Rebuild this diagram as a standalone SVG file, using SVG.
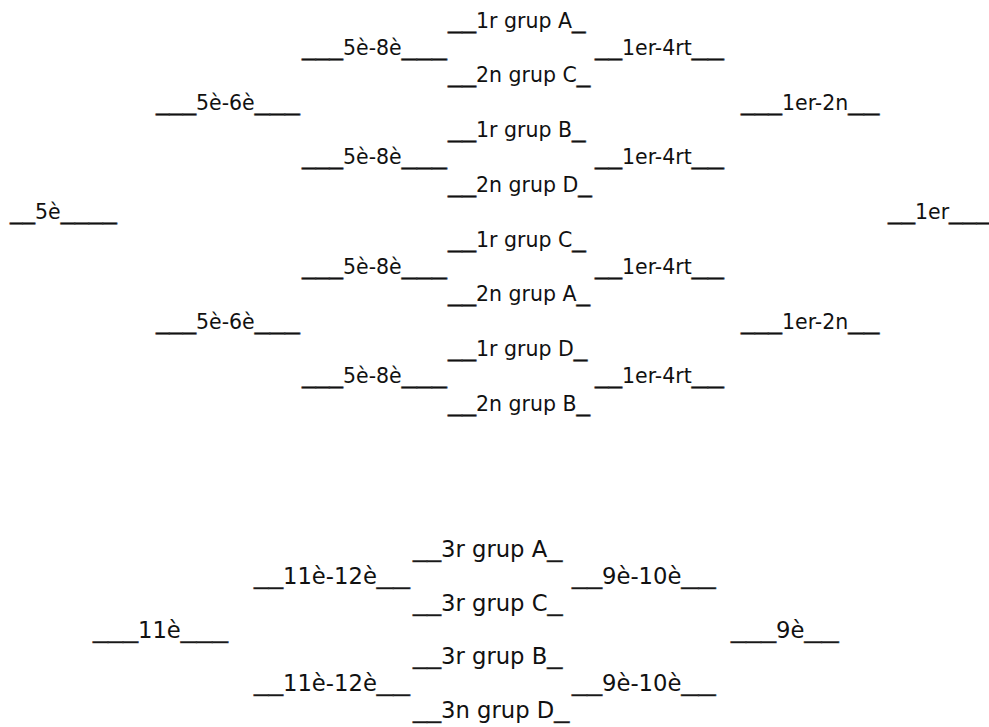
<svg xmlns="http://www.w3.org/2000/svg" width="989" height="727" viewBox="0 0 989 727">
<style>
text{font-family:"DejaVu Sans",Verdana,sans-serif;font-size:20.5px;fill:#111}
.b text{font-size:22.7px}
.u{stroke:#333;stroke-width:0.5px}
</style>
<rect width="989" height="727" fill="#fff"/>
<g id="connectors"/>
<g id="top">
<g id="g1A"><text x="448" y="27.6"><tspan class="u" textLength="28" lengthAdjust="spacingAndGlyphs">__</tspan>1r grup A<tspan class="u" textLength="13.5" lengthAdjust="spacingAndGlyphs">_</tspan></text></g>
<g id="qf1"><text x="302" y="55"><tspan class="u" textLength="41" lengthAdjust="spacingAndGlyphs">___</tspan>5è-8è<tspan class="u" textLength="45" lengthAdjust="spacingAndGlyphs">___</tspan></text></g>
<g id="qr1"><text x="595" y="55"><tspan class="u" textLength="27" lengthAdjust="spacingAndGlyphs">__</tspan>1er-4rt<tspan class="u" textLength="32" lengthAdjust="spacingAndGlyphs">__</tspan></text></g>
<g id="g2C"><text x="448" y="82.3"><tspan class="u" textLength="28" lengthAdjust="spacingAndGlyphs">__</tspan>2n grup C<tspan class="u" textLength="13.5" lengthAdjust="spacingAndGlyphs">_</tspan></text></g>
<g id="sf1"><text x="156" y="109.7"><tspan class="u" textLength="40" lengthAdjust="spacingAndGlyphs">___</tspan>5è-6è<tspan class="u" textLength="45" lengthAdjust="spacingAndGlyphs">___</tspan></text></g>
<g id="sr1"><text x="741" y="109.7"><tspan class="u" textLength="41" lengthAdjust="spacingAndGlyphs">___</tspan>1er-2n<tspan class="u" textLength="31" lengthAdjust="spacingAndGlyphs">__</tspan></text></g>
<g id="g1B"><text x="448" y="137"><tspan class="u" textLength="28" lengthAdjust="spacingAndGlyphs">__</tspan>1r grup B<tspan class="u" textLength="13.5" lengthAdjust="spacingAndGlyphs">_</tspan></text></g>
<g id="qf2"><text x="302" y="164.4"><tspan class="u" textLength="41" lengthAdjust="spacingAndGlyphs">___</tspan>5è-8è<tspan class="u" textLength="45" lengthAdjust="spacingAndGlyphs">___</tspan></text></g>
<g id="qr2"><text x="595" y="164.4"><tspan class="u" textLength="27" lengthAdjust="spacingAndGlyphs">__</tspan>1er-4rt<tspan class="u" textLength="32" lengthAdjust="spacingAndGlyphs">__</tspan></text></g>
<g id="g2D"><text x="448" y="191.8"><tspan class="u" textLength="28" lengthAdjust="spacingAndGlyphs">__</tspan>2n grup D<tspan class="u" textLength="13.5" lengthAdjust="spacingAndGlyphs">_</tspan></text></g>
<g id="p5"><text x="10" y="219.1"><tspan class="u" textLength="25" lengthAdjust="spacingAndGlyphs">__</tspan>5è<tspan class="u" textLength="56" lengthAdjust="spacingAndGlyphs">____</tspan></text></g>
<g id="p1"><text x="888" y="219.1"><tspan class="u" textLength="27" lengthAdjust="spacingAndGlyphs">__</tspan>1er<tspan class="u" textLength="41" lengthAdjust="spacingAndGlyphs">___</tspan></text></g>
<g id="g1C"><text x="448" y="246.5"><tspan class="u" textLength="28" lengthAdjust="spacingAndGlyphs">__</tspan>1r grup C<tspan class="u" textLength="13.5" lengthAdjust="spacingAndGlyphs">_</tspan></text></g>
<g id="qf3"><text x="302" y="273.8"><tspan class="u" textLength="41" lengthAdjust="spacingAndGlyphs">___</tspan>5è-8è<tspan class="u" textLength="45" lengthAdjust="spacingAndGlyphs">___</tspan></text></g>
<g id="qr3"><text x="595" y="273.8"><tspan class="u" textLength="27" lengthAdjust="spacingAndGlyphs">__</tspan>1er-4rt<tspan class="u" textLength="32" lengthAdjust="spacingAndGlyphs">__</tspan></text></g>
<g id="g2A"><text x="448" y="301.2"><tspan class="u" textLength="28" lengthAdjust="spacingAndGlyphs">__</tspan>2n grup A<tspan class="u" textLength="13.5" lengthAdjust="spacingAndGlyphs">_</tspan></text></g>
<g id="sf2"><text x="156" y="328.6"><tspan class="u" textLength="40" lengthAdjust="spacingAndGlyphs">___</tspan>5è-6è<tspan class="u" textLength="45" lengthAdjust="spacingAndGlyphs">___</tspan></text></g>
<g id="sr2"><text x="741" y="328.6"><tspan class="u" textLength="41" lengthAdjust="spacingAndGlyphs">___</tspan>1er-2n<tspan class="u" textLength="31" lengthAdjust="spacingAndGlyphs">__</tspan></text></g>
<g id="g1D"><text x="448" y="355.9"><tspan class="u" textLength="28" lengthAdjust="spacingAndGlyphs">__</tspan>1r grup D<tspan class="u" textLength="13.5" lengthAdjust="spacingAndGlyphs">_</tspan></text></g>
<g id="qf4"><text x="302" y="383.3"><tspan class="u" textLength="41" lengthAdjust="spacingAndGlyphs">___</tspan>5è-8è<tspan class="u" textLength="45" lengthAdjust="spacingAndGlyphs">___</tspan></text></g>
<g id="qr4"><text x="595" y="383.3"><tspan class="u" textLength="27" lengthAdjust="spacingAndGlyphs">__</tspan>1er-4rt<tspan class="u" textLength="32" lengthAdjust="spacingAndGlyphs">__</tspan></text></g>
<g id="g2B"><text x="448" y="410.6"><tspan class="u" textLength="28" lengthAdjust="spacingAndGlyphs">__</tspan>2n grup B<tspan class="u" textLength="13.5" lengthAdjust="spacingAndGlyphs">_</tspan></text></g>
</g>
<g id="bottom" class="b">
<g id="g3A"><text x="413" y="557.1"><tspan class="u" textLength="28" lengthAdjust="spacingAndGlyphs">__</tspan>3r grup A<tspan class="u" textLength="15" lengthAdjust="spacingAndGlyphs">_</tspan></text></g>
<g id="e1"><text x="254" y="583.9"><tspan class="u" textLength="29" lengthAdjust="spacingAndGlyphs">__</tspan>11è-12è<tspan class="u" textLength="33" lengthAdjust="spacingAndGlyphs">__</tspan></text></g>
<g id="n1"><text x="572" y="583.9"><tspan class="u" textLength="30" lengthAdjust="spacingAndGlyphs">__</tspan>9è-10è<tspan class="u" textLength="34" lengthAdjust="spacingAndGlyphs">__</tspan></text></g>
<g id="g3C"><text x="413" y="610.7"><tspan class="u" textLength="28" lengthAdjust="spacingAndGlyphs">__</tspan>3r grup C<tspan class="u" textLength="15" lengthAdjust="spacingAndGlyphs">_</tspan></text></g>
<g id="p11"><text x="93" y="637.5"><tspan class="u" textLength="45" lengthAdjust="spacingAndGlyphs">___</tspan>11è<tspan class="u" textLength="47" lengthAdjust="spacingAndGlyphs">___</tspan></text></g>
<g id="p9"><text x="731" y="637.5"><tspan class="u" textLength="45" lengthAdjust="spacingAndGlyphs">___</tspan>9è<tspan class="u" textLength="34" lengthAdjust="spacingAndGlyphs">__</tspan></text></g>
<g id="g3B"><text x="413" y="664.3"><tspan class="u" textLength="28" lengthAdjust="spacingAndGlyphs">__</tspan>3r grup B<tspan class="u" textLength="15" lengthAdjust="spacingAndGlyphs">_</tspan></text></g>
<g id="e2"><text x="254" y="691.1"><tspan class="u" textLength="29" lengthAdjust="spacingAndGlyphs">__</tspan>11è-12è<tspan class="u" textLength="33" lengthAdjust="spacingAndGlyphs">__</tspan></text></g>
<g id="n2"><text x="572" y="691.1"><tspan class="u" textLength="30" lengthAdjust="spacingAndGlyphs">__</tspan>9è-10è<tspan class="u" textLength="34" lengthAdjust="spacingAndGlyphs">__</tspan></text></g>
<g id="g3D"><text x="413" y="717.9"><tspan class="u" textLength="28" lengthAdjust="spacingAndGlyphs">__</tspan>3n grup D<tspan class="u" textLength="15" lengthAdjust="spacingAndGlyphs">_</tspan></text></g>
</g>
</svg>
